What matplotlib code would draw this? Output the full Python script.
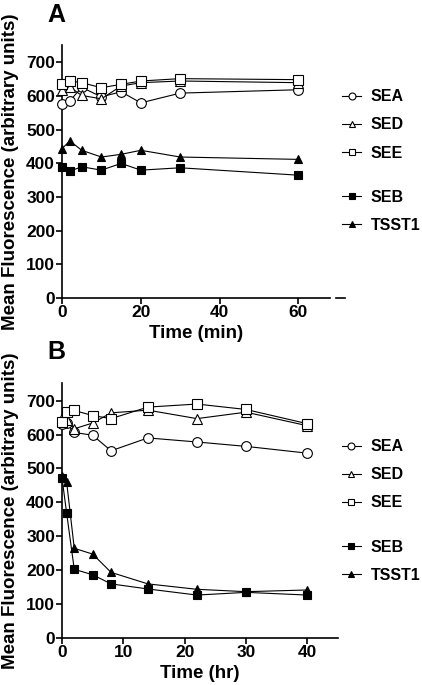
import numpy as np
import matplotlib
matplotlib.use("Agg")
import matplotlib.pyplot as plt
from matplotlib.lines import Line2D

plt.rcParams['font.family'] = ['Liberation Sans', 'DejaVu Sans']
plt.rcParams['font.weight'] = 'bold'

# panel A: time in minutes
time_min = [0, 2, 5, 10, 15, 20, 30, 60]
a_sea = [578, 586, 626, 598, 613, 580, 609, 619]
a_sed = [619, 627, 602, 592, 630, 640, 645, 640]
a_see = [637, 645, 640, 625, 635, 645, 652, 649]
a_seb = [388, 377, 390, 380, 400, 380, 387, 365]
a_tsst1 = [444, 467, 439, 419, 427, 439, 419, 412]

# panel B: time in hours
time_hr = [0, 0.75, 2, 5, 8, 14, 22, 30, 40]
b_sea = [632, 633, 606, 598, 552, 590, 578, 565, 545]
b_sed = [650, 644, 617, 634, 664, 672, 647, 666, 626]
b_see = [636, 666, 671, 656, 647, 681, 690, 674, 632]
b_seb = [472, 369, 202, 186, 159, 144, 126, 134, 126]
b_tsst1 = [478, 461, 264, 247, 193, 159, 143, 136, 141]

names = ['SEA', 'SED', 'SEE', 'SEB', 'TSST1']
styles = {
    'SEA': dict(marker='o', mfc='white', ms=7),
    'SED': dict(marker='^', mfc='white', ms=6.8),
    'SEE': dict(marker='s', mfc='white', ms=6.5),
    'SEB': dict(marker='s', mfc='black', ms=6.2),
    'TSST1': dict(marker='^', mfc='black', ms=6.2),
}


def draw_panel(ax, t, series, xmax, xticks, xlabel, letter, leg_x, leg_y1, leg_y2):
    for name in names:
        st = styles[name]
        ax.plot(t, series[name], color='black', lw=0.8, marker=st['marker'],
                mfc=st['mfc'], mec='black', mew=0.8, ms=st['ms'], clip_on=False, zorder=3)
    ax.set_xlim(0, xmax)
    ax.set_ylim(0, 752)
    ax.set_yticks(np.arange(0, 701, 100))
    ax.set_xticks(xticks)
    ax.spines['top'].set_visible(False)
    ax.spines['right'].set_visible(False)
    ax.spines['left'].set_linewidth(1.2)
    ax.spines['bottom'].set_linewidth(1.2)
    ax.tick_params(direction='out', length=4, width=1.2, labelsize=12.5, pad=1)
    for lab in ax.get_xticklabels() + ax.get_yticklabels():
        lab.set_fontweight('bold')
    ax.set_xlabel(xlabel, fontsize=13.5, fontweight='bold', labelpad=4)
    ax.set_ylabel('Mean Fluorescence (arbitrary units)', fontsize=13.5, fontweight='bold', labelpad=5)
    ax.text(-0.02, 1.12, letter, transform=ax.transAxes, fontsize=18, fontweight='bold',
            ha='center', va='center')

    def handles(sub):
        out = []
        for name in sub:
            st = styles[name]
            out.append(Line2D([], [], color='black', lw=0.8, marker=st['marker'], mfc=st['mfc'],
                              mec='black', mew=0.8, ms=5))
        return out

    kw = dict(loc='center left', frameon=False, fontsize=11.5, handlelength=1.2,
              handletextpad=0.6, labelspacing=0.82, borderpad=0, borderaxespad=0)
    leg1 = ax.legend(handles(names[:3]), names[:3], bbox_to_anchor=(leg_x, leg_y1), **kw)
    ax.add_artist(leg1)
    ax.legend(handles(names[3:]), names[3:], bbox_to_anchor=(leg_x, leg_y2), **kw)


fig = plt.figure(figsize=(4.22, 6.85), dpi=100)
ax1 = fig.add_axes([0.1469, 0.565, 0.635, 0.3693])
ax2 = fig.add_axes([0.1469, 0.069, 0.654, 0.3718])

draw_panel(ax1, time_min, dict(zip(names, [a_sea, a_sed, a_see, a_seb, a_tsst1])),
           68, [0, 20, 40, 60], 'Time (min)', 'A', 1.045, 0.684, 0.342)
draw_panel(ax2, time_hr, dict(zip(names, [b_sea, b_sed, b_see, b_seb, b_tsst1])),
           45, [0, 10, 20, 30, 40], 'Time (hr)', 'B', 1.014, 0.64, 0.301)

# little axis-break dash after panel A x axis
ax1.plot([1.022, 1.055], [0, 0], transform=ax1.transAxes, color='black', lw=1.2, clip_on=False)

fig.savefig('out.png', dpi=100)
